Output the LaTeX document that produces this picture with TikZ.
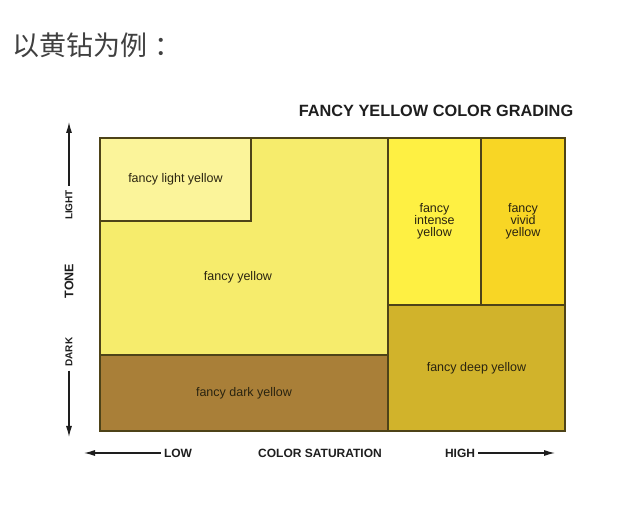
\documentclass[tikz,border=0pt]{standalone}
\usepackage{fontspec}
\setmainfont{Liberation Sans}
\newfontfamily\cjk{Noto Sans CJK SC}
\usetikzlibrary{arrows.meta}
\definecolor{edge}{HTML}{4E4318}
\definecolor{labeltext}{HTML}{2A2410}
\definecolor{axistext}{HTML}{1E1E1E}
\definecolor{lightyel}{HTML}{FBF49A}
\definecolor{fancyyel}{HTML}{F6EC6C}
\definecolor{darkyel}{HTML}{A97F38}
\definecolor{intenseyel}{HTML}{FEF043}
\definecolor{vividyel}{HTML}{F8D625}
\definecolor{deepyel}{HTML}{D1B32B}
\begin{document}
\begin{tikzpicture}[x=1pt,y=-1pt,
  grade/.style={draw=edge,line width=1.2pt,inner sep=0pt,align=center,text=labeltext,font=\fontsize{12.5}{12}\selectfont},
  axislbl/.style={text=axistext,inner sep=3pt,font=\bfseries\fontsize{12}{12}\selectfont},
  sidelbl/.style={text=axistext,inner sep=4pt,rotate=90,font=\bfseries\fontsize{10}{10}\selectfont},
  tip/.style={-{Latex[length=11pt,width=6pt]},line width=1.2pt,draw=axistext}]
\useasboundingbox (0,0) rectangle (640,510);

\node[anchor=west,font=\cjk\fontsize{27}{27}\selectfont,text=black!75] (heading) at (9,45) {以黄钻为例\hspace{7pt}：};
\node[font=\bfseries\fontsize{16.3}{16}\selectfont,text=axistext] (title) at (436,111) {FANCY YELLOW COLOR GRADING};

\node[grade,fill=fancyyel,minimum width=288pt,minimum height=217pt] (fancy) at (244,246.5) {};
\node[text=labeltext,font=\fontsize{12.5}{12}\selectfont] (fancytext) at (238,277) {fancy yellow};
\node[grade,fill=lightyel,minimum width=151pt,minimum height=83pt] (light) at (175.5,179.5) {fancy light yellow};
\node[grade,fill=darkyel,minimum width=288pt,minimum height=76pt] (dark) at (244,393) {fancy dark yellow};
\node[grade,fill=intenseyel,minimum width=93pt,minimum height=167pt] (intense) at (434.5,221.5) {fancy\\intense\\yellow};
\node[grade,fill=vividyel,minimum width=84pt,minimum height=167pt] (vivid) at (523,221.5) {fancy\\vivid\\yellow};
\node[grade,fill=deepyel,minimum width=177pt,minimum height=126pt] (deep) at (476.5,368) {fancy deep yellow};

\node[sidelbl] (lightlbl) at (69,205) {LIGHT};
\node[sidelbl,font=\bfseries\fontsize{12.5}{12}\selectfont] (tone) at (69,281) {TONE};
\node[sidelbl] (darklbl) at (69,352) {DARK};
\coordinate (uptip) at (69,122);
\coordinate (downtip) at (69,437);
\draw[tip] (lightlbl.east) -- (uptip);
\draw[tip] (darklbl.west) -- (downtip);

\node[axislbl] (low) at (178,453) {LOW};
\node[axislbl] (sat) at (320,453) {COLOR SATURATION};
\node[axislbl] (high) at (460,453) {HIGH};
\coordinate (lefttip) at (84,453);
\coordinate (righttip) at (555,453);
\draw[tip] (low.west) -- (lefttip);
\draw[tip] (high.east) -- (righttip);
\end{tikzpicture}
\end{document}
